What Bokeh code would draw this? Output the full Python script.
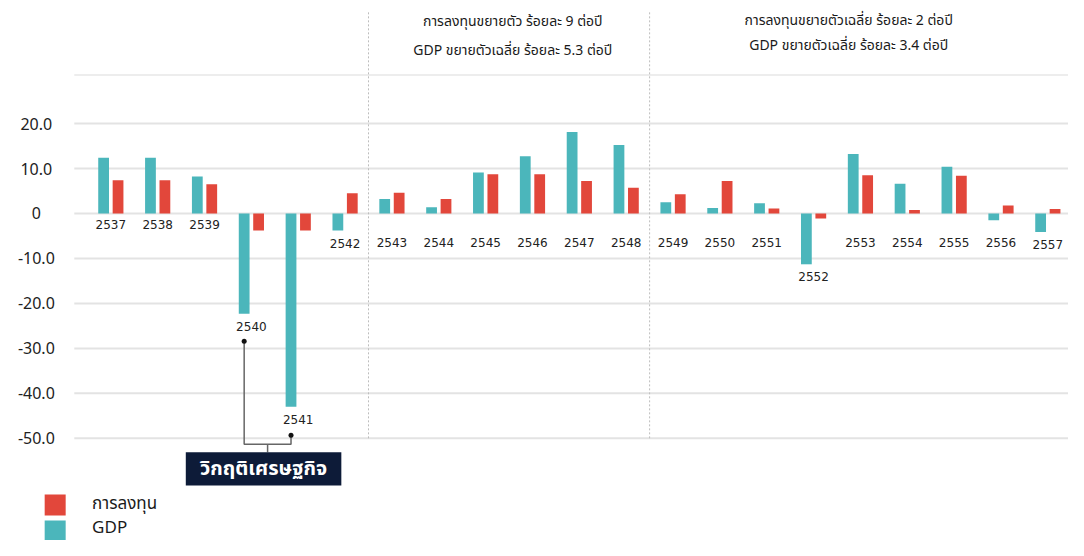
from bokeh.plotting import figure
from bokeh.models import Range1d, ColumnDataSource
from bokeh.core.properties import value
from bokeh.embed import file_html
from bokeh.resources import INLINE

# ---------------- data ----------------
years = ["2537", "2538", "2539", "2540", "2541", "2542", "2543", "2544", "2545", "2546",
         "2547", "2548", "2549", "2550", "2551", "2552", "2553", "2554", "2555", "2556", "2557"]
gdp = [12.4, 12.4, 8.2, -22.3, -43.0, -3.8, 3.2, 1.4, 9.1, 12.7,
       18.1, 15.2, 2.5, 1.2, 2.3, -11.3, 13.2, 6.6, 10.4, -1.5, -4.1]
investment = [7.4, 7.4, 6.5, -3.8, -3.8, 4.5, 4.6, 3.2, 8.7, 8.7,
              7.2, 5.7, 4.3, 7.2, 1.1, -1.1, 8.5, 0.8, 8.4, 1.8, 1.0]
y_ticks = [-50, -40, -30, -20, -10, 0, 10, 20]
y_tick_labels = ["-50.0", "-40.0", "-30.0", "-20.0", "-10.0", "0", "10.0", "20.0"]
period_notes = [
    ["การลงทุนขยายตัว ร้อยละ 9 ต่อปี", "GDP ขยายตัวเฉลี่ย ร้อยละ 5.3 ต่อปี"],
    ["การลงทุนขยายตัวเฉลี่ย ร้อยละ 2 ต่อปี", "GDP ขยายตัวเฉลี่ย ร้อยละ 3.4 ต่อปี"],
]
period_breaks = ["2542", "2548"]   # separator drawn after these years
crisis_years = ["2540", "2541"]
crisis_label = "วิกฤติเศรษฐกิจ"
legend_labels = ["การลงทุน", "GDP"]

# ---------------- style ----------------
TEAL = "#4bb6bb"
RED = "#e2473b"
GRID = "#e3e3e3"
NAVY = "#0d1b38"
THAI_FONT = "'Noto Sans Thai', 'Noto Sans', sans-serif"
NUM_FONT = "'Noto Sans', sans-serif"

W, H = 1068, 540
n = len(years)
idx = list(range(n))
off, bw = 0.154, 0.23

p = figure(width=W, height=H, output_backend="svg", toolbar_location=None,
           x_range=Range1d(-2.355, 20.441), y_range=Range1d(-72.72, 47.36),
           min_border=0, outline_line_color=None)
p.axis.visible = False
p.xgrid.visible = False
p.ygrid.visible = False
p.background_fill_color = "white"

# horizontal grid lines
grid_x0 = -0.78
grid_x1 = 20.6
p.segment(x0=[grid_x0] * len(y_ticks), x1=[grid_x1] * len(y_ticks), y0=y_ticks, y1=y_ticks,
          line_color=GRID, line_width=2)
p.segment(x0=[grid_x0], x1=[grid_x1], y0=[30.8], y1=[30.8], line_color="#ededed", line_width=2)

# y tick labels
p.text(x=[-1.59] * len(y_ticks), y=y_ticks, text=y_tick_labels, text_align="center",
       text_baseline="middle", text_font=value(NUM_FONT), text_font_size="16px",
       text_color="#222222")

# period separators
for yb in period_breaks:
    xs = years.index(yb) + 0.5
    p.segment(x0=[xs], x1=[xs], y0=[-50], y1=[45], line_color="#bdbdbd",
              line_width=1, line_dash="2 2")

# bars
src = ColumnDataSource(dict(x=idx, gdp=gdp, inv=investment,
                            xg=[i - off for i in idx], xi=[i + off for i in idx]))
p.vbar(x="xg", top="gdp", bottom=0, width=bw, source=src, fill_color=TEAL, line_color=None)
p.vbar(x="xi", top="inv", bottom=0, width=bw, source=src, fill_color=RED, line_color=None)

# year labels
label_y = []
for i in idx:
    low = min(0, gdp[i], investment[i])
    if i < 3:
        label_y.append(-2.4)
    else:
        label_y.append(min(-6.5, low - 2.8))
p.text(x=idx, y=label_y, text=years, text_align="center", text_baseline="middle",
       text_font=value("DejaVu Sans"), text_font_size="12px", text_color="#222222")

# period notes
note_centers = [(5.5 + 11.5) / 2 + 0.08, (11.5 + 20.3) / 2 - 0.15]
note_rows = [[42.6, 36.2], [43.0, 37.3]]
for k, lines in enumerate(period_notes):
    p.text(x=[note_centers[k]] * 2, y=note_rows[k], text=lines, text_align="center",
           text_baseline="middle", text_font=value(THAI_FONT), text_font_size="14px",
           text_color="#1a1a1a")

# crisis bracket
ci = [years.index(c) for c in crisis_years]
cx = [ci[0] - off, ci[1] - off]
dot_y = [label_y[ci[0]] - 3.3, label_y[ci[1]] - 3.5]
br_y = -51.3
mid = (cx[0] + cx[1]) / 2
p.line(x=[cx[0], cx[0], cx[1], cx[1]], y=[dot_y[0], br_y, br_y, dot_y[1]],
       line_color="#666666", line_width=1.5)
p.segment(x0=[mid], x1=[mid], y0=[br_y], y1=[-53.1], line_color="#666666", line_width=1.5)
p.scatter(x=cx, y=dot_y, size=5, fill_color="#111111", line_color=None)
p.quad(left=[1.6], right=[4.92], top=[-53.1], bottom=[-60.5], fill_color=NAVY, line_color=None)
p.text(x=[3.26], y=[-56.9], text=[crisis_label], text_align="center", text_baseline="middle",
       text_font=value(THAI_FONT), text_font_size="20px", text_font_style="bold",
       text_color="white")

# legend
leg_x = -1.188
leg_y = [-64.84, -70.6]
p.scatter(x=[leg_x] * 2, y=leg_y, marker="square", size=21, fill_color=[RED, TEAL],
          line_color=None)
p.text(x=[-0.4] * 2, y=[-64.6, -69.9], text=legend_labels, text_align="left",
       text_baseline="middle", text_font=value(THAI_FONT), text_font_size="17px",
       text_color="#1a1a1a")

open("out.html", "w").write(file_html(p, INLINE))
